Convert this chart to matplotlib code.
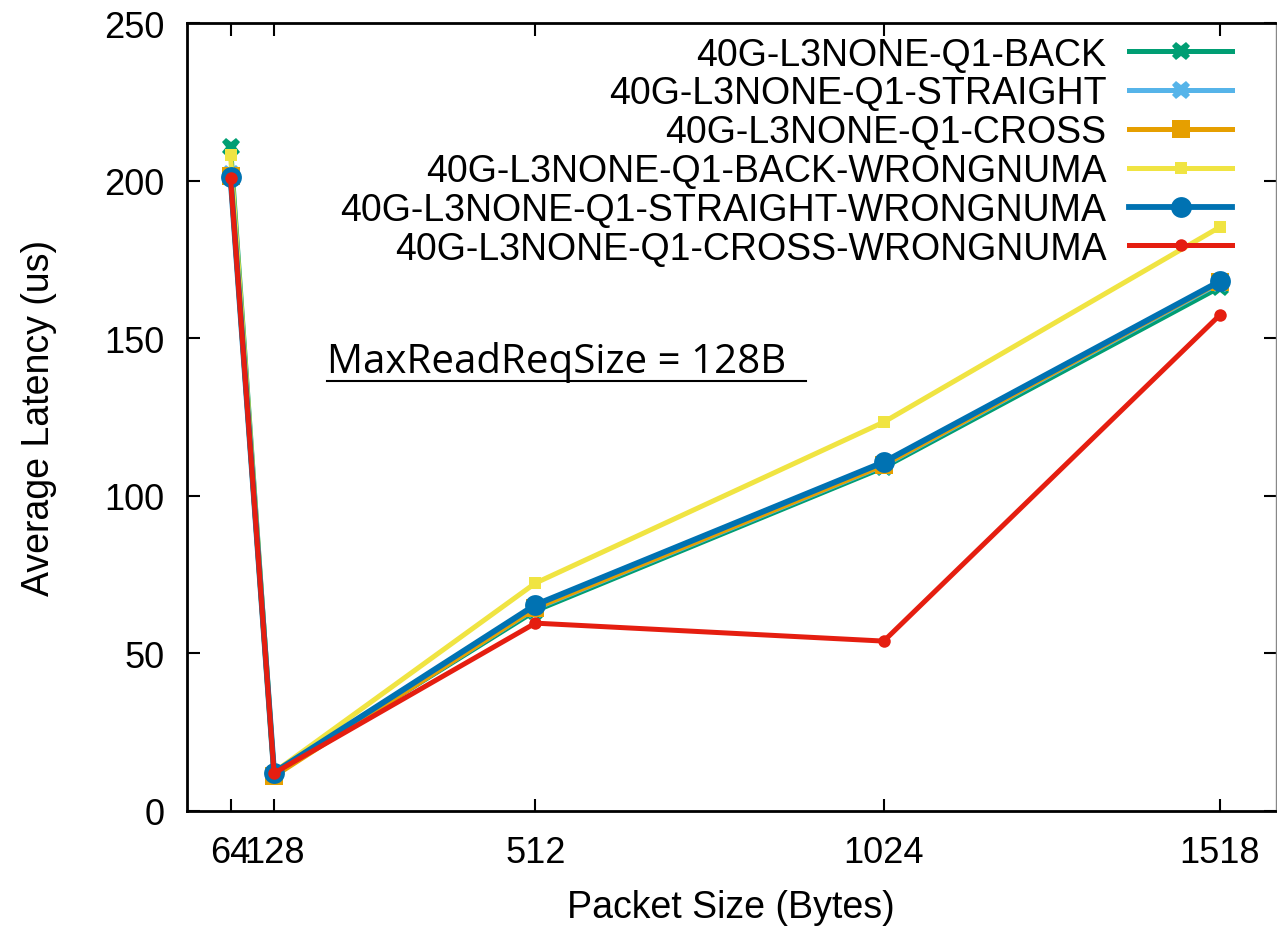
import numpy as np
import matplotlib
matplotlib.use("Agg")
from matplotlib import pyplot as plt
from matplotlib.lines import Line2D

plt.rcParams['font.family'] = ['Liberation Sans', 'DejaVu Sans']

packet_sizes = [64, 128, 512, 1024, 1518]

series_names = [
    "40G-L3NONE-Q1-BACK",
    "40G-L3NONE-Q1-STRAIGHT",
    "40G-L3NONE-Q1-CROSS",
    "40G-L3NONE-Q1-BACK-WRONGNUMA",
    "40G-L3NONE-Q1-STRAIGHT-WRONGNUMA",
    "40G-L3NONE-Q1-CROSS-WRONGNUMA",
]

back = [210.8, 11.8, 63.5, 109.0, 166.2]
straight = [202.0, 11.5, 64.2, 109.6, 167.5]
cross = [201.5, 11.0, 64.4, 109.8, 167.8]
back_wrongnuma = [208.3, 12.3, 72.3, 123.4, 185.3]
straight_wrongnuma = [201.2, 12.2, 65.4, 110.7, 168.1]
cross_wrongnuma = [201.0, 12.0, 59.6, 53.9, 157.4]

series_values = [back, straight, cross, back_wrongnuma,
                 straight_wrongnuma, cross_wrongnuma]

colors = ['#009e73', '#56b4e9', '#e69f00', '#f0e442', '#0072b2', '#e51e10']
markers = ['X', 'X', 's', 's', 'o', 'o']
marker_sizes = [13, 13, 13, 9, 15, 9]
line_widths = [3.6, 3.6, 3.6, 3.6, 4.2, 3.6]

fig = plt.figure(figsize=(12.77, 9.29), dpi=100)
ax = fig.add_axes([0.1464, 0.126, 0.8526, 0.848])

for name, vals, c, m, ms, lw in zip(series_names, series_values, colors,
                                    markers, marker_sizes, line_widths):
    ax.plot(packet_sizes, vals, color=c, marker=m, markersize=ms,
            linewidth=lw, markeredgewidth=0, label=name)

ax.set_xlim(0, 1600)
ax.set_ylim(0, 250)
ax.set_xticks(packet_sizes)
ax.set_xticklabels(["64", "128", "512", "1024", "1518"])
ax.set_yticks([0, 50, 100, 150, 200, 250])
ax.tick_params(direction='in', length=9, width=1.5, labelsize=26,
               top=True, right=True)
ax.tick_params(axis='y', pad=16)
ax.tick_params(axis='x', pad=17)
for s in ['left', 'bottom', 'top']:
    ax.spines[s].set_linewidth(2)
ax.spines['right'].set_linewidth(1)
ax.spines['right'].set_color('#888888')

ax.set_xlabel("Packet Size (Bytes)", fontsize=27, labelpad=14)
ax.set_ylabel("Average Latency (us)", fontsize=27, labelpad=34)

# annotation with underline
ax.text(0.129, 0.57, "MaxReadReqSize = 128B", transform=ax.transAxes,
        fontsize=29, family=['Open Sans', 'DejaVu Sans'], va='center')
ax.add_line(Line2D([0.129, 0.569], [0.546, 0.546], transform=ax.transAxes,
                   color='black', linewidth=1.5))

leg = ax.legend(loc='upper right', bbox_to_anchor=(0.96, 0.983),
                frameon=False, markerfirst=False, fontsize=27,
                handlelength=2.75, handletextpad=0.6, labelspacing=0.075,
                borderaxespad=0, borderpad=0)
for t in leg.get_texts():
    t.set_ha('right')
leg._legend_box.align = "right"

fig.savefig("out.png", dpi=100)
